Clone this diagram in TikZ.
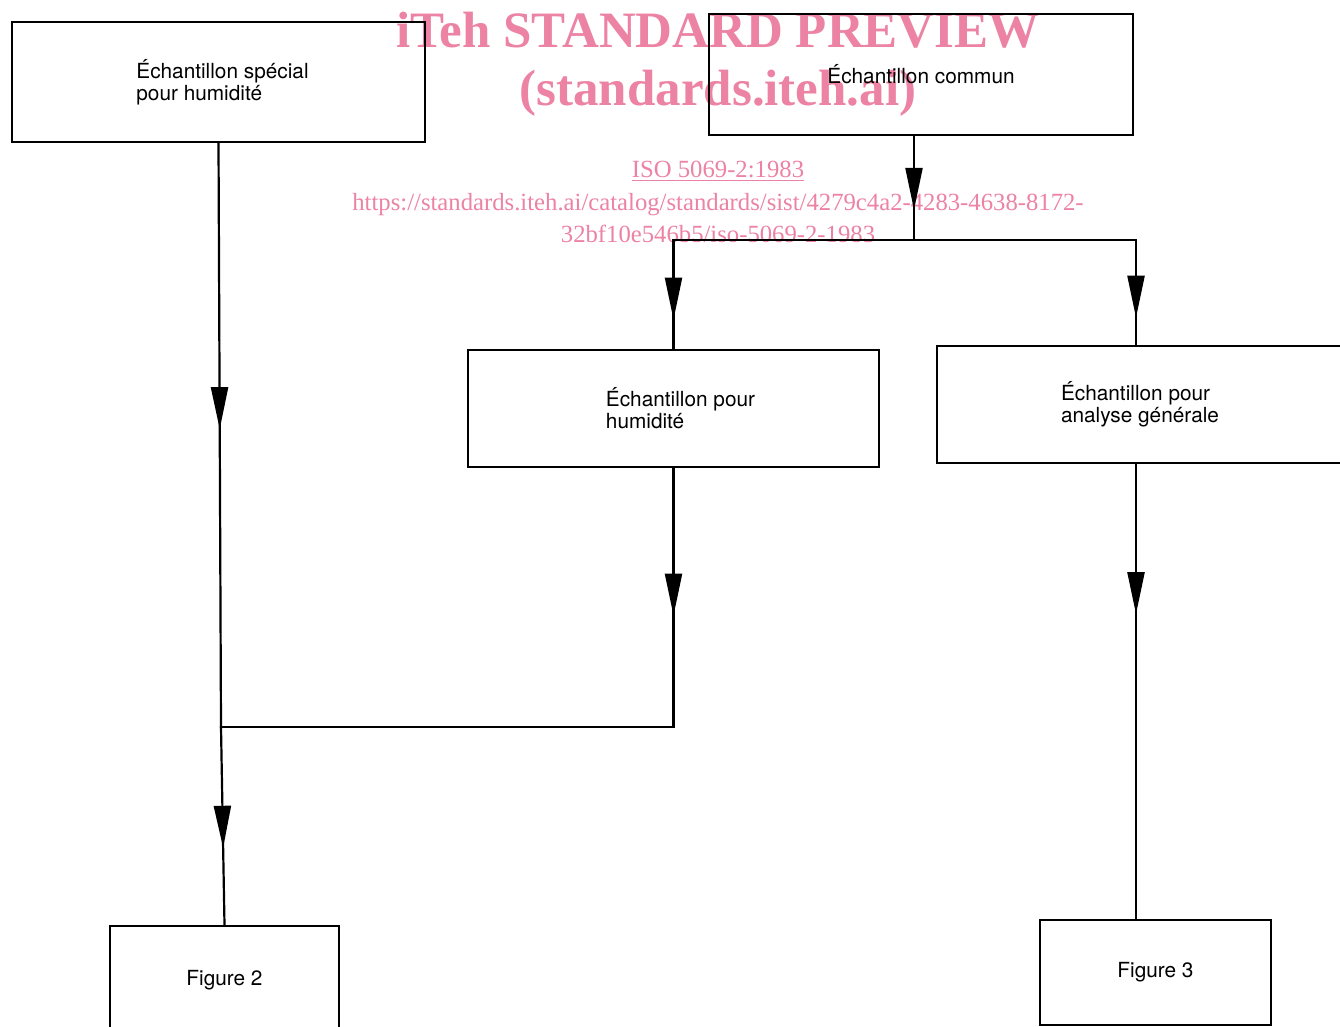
\documentclass[tikz,border=0pt]{standalone}
\usepackage{fontspec}
\setmainfont{Liberation Serif}
\setsansfont{TeX Gyre Heros}
\usetikzlibrary{arrows.meta,decorations.markings}
\definecolor{wmpink}{RGB}{236,130,164}
\tikzset{
    >=Triangle,
    chart/.style={
        x=1pt,y=-1pt,
        box/.append style={draw,line width=2pt,align=left,inner sep=0pt,font=\sffamily\fontsize{20.8}{22}\selectfont},
        wire/.append style={draw,line width=2.2pt,line cap=rect},
        tip/.style={wire,postaction={decorate,decoration={markings,mark=at position ##1 with {\arrow{Triangle[length=42pt,width=17pt]}}}}},
        wm/.append style={text=wmpink,inner sep=0pt,anchor=base},
        wmbig/.append style={wm,font=\rmfamily\bfseries\fontsize{51}{51}\selectfont},
        wmsmall/.append style={wm,font=\rmfamily\fontsize{24.7}{25}\selectfont}
    }
}

\begin{document}
\begin{tikzpicture}[chart]
    \useasboundingbox (0,0) rectangle (1340,1027);
    % watermark
    \node[wmbig] (wmtitle) at (718,48) {iTeh STANDARD PREVIEW};
    \node[wmbig] (wmsite) at (718,106) {(standards.iteh.ai)};
    \node[wmsmall] (wmiso) at (718,178) {\underline{ISO 5069-2:1983}};
    \node[wmsmall] (wmurl) at (718,211) {https://standards.iteh.ai/catalog/standards/sist/4279c4a2-4283-4638-8172-};
    \node[wmsmall] (wmurlb) at (718,242) {32bf10e546b5/iso-5069-2-1983};
    % boxes
    \node[box,minimum width=413pt,minimum height=120pt] (spec) at (218.5,82) {\hspace*{8pt}Échantillon spécial\\\hspace*{8pt}pour humidité};
    \node[box,minimum width=424pt,minimum height=121pt] (comm) at (921,74.5) {Échantillon commun};
    \node[box,minimum width=411pt,minimum height=117pt] (hum) at (673.5,408.5) {\hspace*{14pt}Échantillon pour\\\hspace*{14pt}humidité};
    \node[box,minimum width=406pt,minimum height=117pt] (gen) at (1140,404.5) {Échantillon pour\\analyse générale};
    \node[box,minimum width=229pt,minimum height=108pt] (fig2) at (224.5,980) {Figure 2};
    \node[box,minimum width=231pt,minimum height=105pt] (fig3) at (1155.5,972.5) {Figure 3};
    \coordinate (join) at (221,727);
    \coordinate (split) at (914,240);
    \coordinate (rcol) at (1136,0);
    % connectors
    \draw[tip=0.49] (spec.south) -- (join);
    \draw[tip=0.61] (join) -- (fig2.north);
    \draw[tip=0.57] (hum.south) -- (hum.south |- join);
    \draw[wire] (hum.south |- join) -- (join);
    \draw[tip=0.71] (split |- comm.south) -- (split);
    \draw[wire] (hum.north |- split) -- (split -| rcol);
    \draw[tip=0.73] (hum.north |- split) -- (hum.north);
    \draw[tip=0.74] (split -| rcol) -- (gen.north -| rcol);
    \draw[tip=0.33] (gen.south -| rcol) -- (fig3.north -| rcol);
\end{tikzpicture}
\end{document}
